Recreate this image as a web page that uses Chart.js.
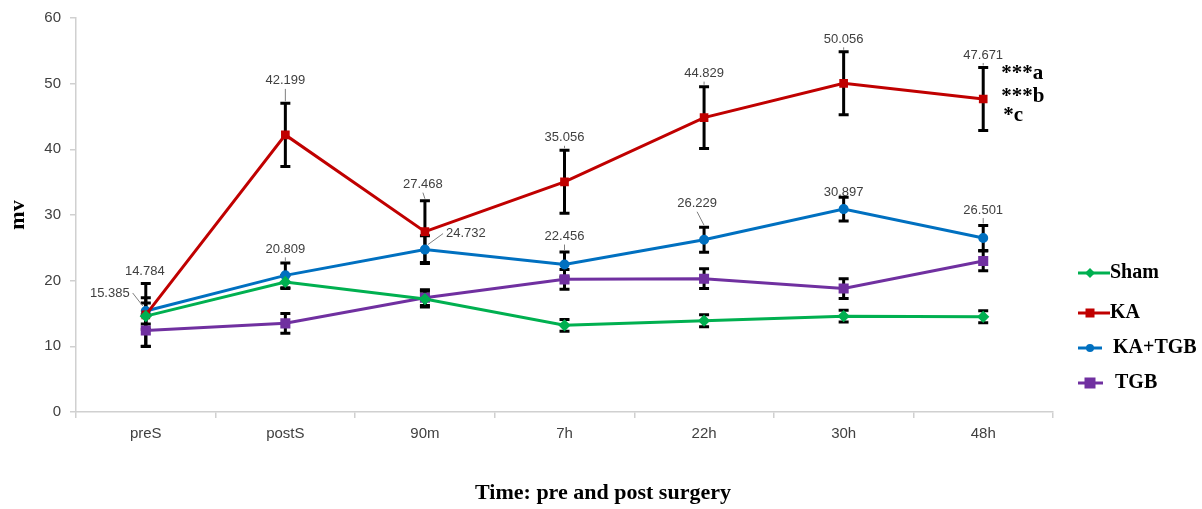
<!DOCTYPE html>
<html>
<head>
<meta charset="utf-8">
<script src="https://cdn.jsdelivr.net/npm/chart.js@4.4.1/dist/chart.umd.min.js"></script>
<style>
  html, body { margin: 0; padding: 0; background: #fff; }
  #wrap { width: 1202px; height: 509px; position: relative; }
</style>
</head>
<body>
<div id="wrap"><canvas id="myChart"></canvas></div>
<script>
// time points
const categories = ['preS', 'postS', '90m', '7h', '22h', '30h', '48h'];

// group means (mv) and error bar half-lengths
const shamMean = [14.6, 19.8, 17.2, 13.2, 13.9, 14.6, 14.5];
const shamErr = [2.0, 1.0, 1.2, 0.9, 0.9, 0.9, 0.9];
const kaMean = [14.784, 42.199, 27.468, 35.056, 44.829, 50.056, 47.671];
const kaErr = [4.8, 4.8, 4.7, 4.8, 4.7, 4.8, 4.8];
const kaTgbMean = [15.385, 20.809, 24.732, 22.456, 26.229, 30.897, 26.501];
const kaTgbErr = [2.0, 1.9, 2.1, 1.9, 1.9, 1.8, 1.9];
const tgbMean = [12.4, 13.5, 17.4, 20.2, 20.3, 18.8, 23.0];
const tgbErr = [2.4, 1.5, 1.2, 1.5, 1.5, 1.5, 1.5];

const yTicks = [0, 10, 20, 30, 40, 50, 60];
const sigNotes = ['***a', '***b', '*c'];
const xTitle = 'Time: pre and post surgery';

// where the value labels sit, relative to the point (px)
const kaLabelPos = [[-1, -43], [0, -54], [-2, -47], [0, -44], [0, -44], [0, -44], [0, -44]];
const kaTgbLabelPos = [[-36, -18], [0, -26], [41, -16], [0, -28], [-7, -36], [0, -17], [0, -28]];

const errors = [shamErr, kaErr, kaTgbErr, tgbErr];
const serif = '"Liberation Serif", "Times New Roman", serif';

const errorBars = {
    id: 'errorBars',
    beforeDatasetsDraw(chart) {
        const c = chart.ctx;
        const y = chart.scales.y;
        c.save();
        c.strokeStyle = '#000';
        c.lineWidth = 3;
        chart.data.datasets.forEach((ds, i) => {
            const meta = chart.getDatasetMeta(i);
            meta.data.forEach((pt, j) => {
                const top = y.getPixelForValue(ds.data[j] + errors[i][j]);
                const bot = y.getPixelForValue(ds.data[j] - errors[i][j]);
                c.beginPath();
                c.moveTo(pt.x, top); c.lineTo(pt.x, bot);
                c.moveTo(pt.x - 5, top); c.lineTo(pt.x + 5, top);
                c.moveTo(pt.x - 5, bot); c.lineTo(pt.x + 5, bot);
                c.stroke();
            });
        });
        c.restore();
    }
};

function drawLabels(chart, idx, pos) {
    const c = chart.ctx;
    const y = chart.scales.y;
    const ds = chart.data.datasets[idx];
    chart.getDatasetMeta(idx).data.forEach((pt, j) => {
        const lx = pt.x + pos[j][0];
        const ly = pt.y + pos[j][1];
        const txt = ds.data[j].toFixed(3);
        c.fillStyle = '#404040';
        c.fillText(txt, lx, ly);
        // leader line
        const top = y.getPixelForValue(ds.data[j] + errors[idx][j]);
        c.strokeStyle = '#7f7f7f';
        c.lineWidth = 1;
        c.beginPath();
        if (Math.abs(pos[j][0]) > 20) {
            const w = c.measureText(txt).width / 2 + 3;
            const sx = pos[j][0] < 0 ? lx + w : lx - w;
            c.moveTo(sx, ly);
            c.lineTo(pt.x + (pos[j][0] < 0 ? -3 : 3), pt.y - 5);
            c.stroke();
        } else if (top - (ly + 8) > 4) {
            c.moveTo(lx, ly + 8);
            c.lineTo(pt.x, top - 2);
            c.stroke();
        }
    });
}

const extras = {
    id: 'extras',
    afterDraw(chart) {
        const c = chart.ctx;
        const y = chart.scales.y;
        const area = chart.chartArea;
        c.save();
        c.font = '13px "Liberation Sans", Arial, sans-serif';
        c.textAlign = 'center';
        c.textBaseline = 'middle';
        drawLabels(chart, 1, kaLabelPos);
        drawLabels(chart, 2, kaTgbLabelPos);

        // x axis title, centred on the page
        c.fillStyle = '#000';
        c.font = 'bold 22px ' + serif;
        c.fillText(xTitle, chart.width / 2 + 2, 493);

        // significance marks next to the last KA point
        c.textAlign = 'left';
        c.font = 'bold 21px ' + serif;
        const lastX = chart.getDatasetMeta(1).data[6].x;
        const sigY = [y.getPixelForValue(51.5), y.getPixelForValue(48.1), y.getPixelForValue(45.1)];
        sigNotes.forEach((s, k) => c.fillText(s, lastX + 18 + (k === 2 ? 2 : 0), sigY[k]));

        // legend
        const items = chart.data.datasets;
        const legY = [273, 313, 348, 383];
        const lineEnd = [32, 32, 24, 25];
        const textX = [1110, 1110, 1113, 1115];
        const legX = area.right + 25;
        items.forEach((ds, k) => {
            c.strokeStyle = ds.borderColor;
            c.lineWidth = 3;
            c.beginPath();
            c.moveTo(legX, legY[k]); c.lineTo(legX + lineEnd[k], legY[k]);
            c.stroke();
            c.fillStyle = ds.borderColor;
            const px = legX + 12, py = legY[k];
            if (ds.pointStyle === 'rect') {
                const s = ds.pointRadius + 0.5;
                c.fillRect(px - s, py - s, 2 * s, 2 * s);
            } else if (ds.pointStyle === 'rectRot') {
                c.beginPath();
                c.moveTo(px, py - 5); c.lineTo(px + 5, py); c.lineTo(px, py + 5); c.lineTo(px - 5, py);
                c.fill();
            } else {
                c.beginPath(); c.arc(px, py, 4, 0, Math.PI * 2); c.fill();
            }
            c.fillStyle = '#000';
            c.font = 'bold 20px ' + serif;
            c.fillText(ds.label, textX[k], legY[k]);
        });
        c.restore();
    }
};

const ctx = document.getElementById('myChart').getContext('2d');
const myChart = new Chart(ctx, {
    type: 'line',
    data: {
        labels: categories,
        datasets: [
            {
                label: 'Sham',
                data: shamMean,
                borderColor: '#00B050',
                backgroundColor: '#00B050',
                borderWidth: 3,
                pointStyle: 'rectRot',
                pointRadius: 4
            },
            {
                label: 'KA',
                data: kaMean,
                borderColor: '#C00000',
                backgroundColor: '#C00000',
                borderWidth: 3,
                pointStyle: 'rect',
                pointRadius: 4
            },
            {
                label: 'KA+TGB',
                data: kaTgbMean,
                borderColor: '#0070C0',
                backgroundColor: '#0070C0',
                borderWidth: 3,
                pointStyle: 'circle',
                pointRadius: 3.5
            },
            {
                label: 'TGB',
                data: tgbMean,
                borderColor: '#7030A0',
                backgroundColor: '#7030A0',
                borderWidth: 3,
                pointStyle: 'rect',
                pointRadius: 5
            }
        ]
    },
    options: {
        responsive: true,
        maintainAspectRatio: false,
        animation: false,
        layout: { padding: { top: 9, right: 149, left: 0, bottom: 59 } },
        plugins: {
            legend: { display: false },
            tooltip: { enabled: false }
        },
        scales: {
            x: {
                offset: true,
                grid: { drawOnChartArea: false, drawTicks: true, tickLength: 6, offset: true, color: '#d0d0d0', lineWidth: 1.5 },
                border: { color: '#d0d0d0', width: 1.5 },
                ticks: { color: '#404040', font: { family: '"Liberation Sans", Arial, sans-serif', size: 15 }, padding: 7 }
            },
            y: {
                min: 0,
                max: 60,
                afterFit(scale) { scale.width = 76; },
                afterBuildTicks(scale) { scale.ticks = yTicks.map(v => ({ value: v })); },
                grid: { drawOnChartArea: false, drawTicks: true, tickLength: 6, color: '#d0d0d0', lineWidth: 1.5 },
                border: { color: '#d0d0d0', width: 1.5 },
                ticks: { color: '#404040', font: { family: '"Liberation Sans", Arial, sans-serif', size: 15 }, padding: 9 },
                title: {
                    display: true,
                    text: 'mv',
                    color: '#000',
                    font: { family: serif, size: 22, weight: 'bold' },
                    padding: { top: 5, bottom: 0 }
                }
            }
        }
    },
    plugins: [errorBars, extras]
});
</script>
</body>
</html>
